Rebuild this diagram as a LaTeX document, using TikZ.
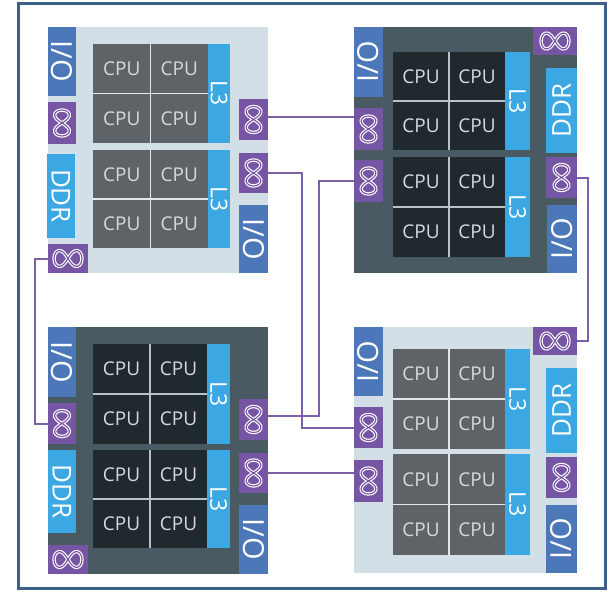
\documentclass[tikz,border=0pt]{standalone}
\usepackage{fontspec}
\setmainfont{Open Sans}
\usepackage{graphicx}

\definecolor{frameblue}{HTML}{3F5E88}
\definecolor{pkglight}{HTML}{D2DFE7}
\definecolor{pkgdark}{HTML}{4A5A62}
\definecolor{cpulight}{HTML}{5E6367}
\definecolor{cpudark}{HTML}{20292D}
\definecolor{iob}{HTML}{4C78BA}
\definecolor{cacheb}{HTML}{3BA8E4}
\definecolor{ifp}{HTML}{7755A5}
\definecolor{linkp}{HTML}{7B60A8}
\definecolor{cputxt}{HTML}{D6DADC}
\definecolor{seplight}{HTML}{E2E8EC}
\definecolor{sepdark}{HTML}{B8C2C8}

% rectangle node from corner (x1,y1) to corner (x2,y2): style, name, x1, y1, x2, y2, text
\newcommand\rbox[7]{%
  \node[#1,minimum width={(#5)-(#3)},minimum height={(#6)-(#4)}] (#2)
    at ({((#3)+(#5))/2},{((#4)+(#6))/2}) {#7};}

% a 2x2 block of cores with thin separators
\newcommand\cpugroup[7]{%
  \pgfmathsetmacro\xm{((#2)+(#4))/2}%
  \pgfmathsetmacro\ym{((#3)+(#5))/2}%
  \rbox{#6}{#1a}{#2}{#3}{\xm}{\ym}{CPU}
  \rbox{#6}{#1b}{\xm}{#3}{#4}{\ym}{CPU}
  \rbox{#6}{#1c}{#2}{\ym}{\xm}{#5}{CPU}
  \rbox{#6}{#1d}{\xm}{\ym}{#4}{#5}{CPU}
  \draw[#7] (#1a.north east) -- (#1c.south east);
  \draw[#7] (#1a.south west) -- (#1b.south east);}

% hollow infinity sign centred in an interconnect box
\newcommand\infmark[3]{%
  \begin{scope}[shift={(#1.center)},rotate=#2]
    \draw[white,line width=3.4] plot[smooth cycle,domain=0:350,samples=36,variable=\t]
      ({#3*cos(\t)/(1+sin(\t)*sin(\t))},{1.6*#3*sin(\t)*cos(\t)/(1+sin(\t)*sin(\t))});
    \draw[ifp,line width=1.1] plot[smooth cycle,domain=0:350,samples=36,variable=\t]
      ({#3*cos(\t)/(1+sin(\t)*sin(\t))},{1.6*#3*sin(\t)*cos(\t)/(1+sin(\t)*sin(\t))});
  \end{scope}}

\begin{document}
\begin{tikzpicture}[x=1pt,y=-1pt,
  every node/.style={inner sep=0pt,outer sep=0pt,rectangle},
  framebox/.style={draw=frameblue,line width=3pt,fill=white},
  pkgL/.style={fill=pkglight},
  pkgD/.style={fill=pkgdark},
  cellL/.style={fill=cpulight,text=cputxt,font=\fontsize{19}{19}\selectfont},
  cellD/.style={fill=cpudark,text=cputxt,font=\fontsize{19}{19}\selectfont},
  sepL/.style={seplight,line width=1.5pt},
  sepD/.style={sepdark,line width=1.5pt},
  iobox/.style={fill=iob,text=white,font=\fontsize{29}{29}\selectfont},
  cachebox/.style={fill=cacheb,text=white,font=\fontsize{26}{26}\selectfont},
  l3box/.style={fill=cacheb,text=white,font=\fontsize{23}{23}\selectfont},
  ifbox/.style={fill=ifp},
  link/.style={draw=linkp,line width=2pt}]
\useasboundingbox (0,0) rectangle (613,592);
\fill[white] (0,0) rectangle (613,592);
\rbox{framebox}{frame}{18}{3}{605}{588}{}

% ---- socket, top left ----
\rbox{pkgL}{tl}{48}{27}{268}{273}{}
\rbox{iobox}{tlIOa}{48}{27}{76}{96}{\rotatebox{-90}{I/O}}
\rbox{ifbox}{tlXl}{48}{102}{76}{144}{}
\rbox{cachebox}{tlDDR}{47}{154}{75}{238}{\rotatebox{-90}{DDR}}
\rbox{ifbox}{tlXb}{48}{244}{88}{273}{}
\cpugroup{tlGa}{93}{44}{208}{143}{cellL}{sepL}
\cpugroup{tlGb}{93}{150}{208}{248}{cellL}{sepL}
\rbox{l3box}{tlCa}{208}{44}{230}{143}{\rotatebox{-90}{L3}}
\rbox{l3box}{tlCb}{208}{150}{230}{248}{\rotatebox{-90}{L3}}
\rbox{ifbox}{tlXr1}{239}{99}{268}{140}{}
\rbox{ifbox}{tlXr2}{239}{153}{268}{193}{}
\rbox{iobox}{tlIOb}{239}{205}{268}{273}{\rotatebox{-90}{I/O}}

% ---- socket, top right ----
\rbox{pkgD}{tr}{354}{27}{577}{273}{}
\rbox{iobox}{trIOa}{354}{27}{383}{97}{\rotatebox{90}{I/O}}
\rbox{ifbox}{trXt}{533}{27}{577}{55}{}
\rbox{cachebox}{trDDR}{546}{68}{577}{153}{\rotatebox{90}{DDR}}
\rbox{ifbox}{trXr}{546}{157}{577}{198}{}
\rbox{iobox}{trIOb}{547}{205}{577}{273}{\rotatebox{90}{I/O}}
\rbox{ifbox}{trXl1}{354}{108}{383}{150}{}
\rbox{ifbox}{trXl2}{354}{160}{383}{202}{}
\cpugroup{trGa}{393}{52}{505}{150}{cellD}{sepD}
\cpugroup{trGb}{393}{157}{505}{257}{cellD}{sepD}
\rbox{l3box}{trCa}{505}{52}{530}{150}{\rotatebox{-90}{L3}}
\rbox{l3box}{trCb}{505}{157}{530}{257}{\rotatebox{-90}{L3}}

% ---- socket, bottom left ----
\rbox{pkgD}{bl}{48}{327}{268}{574}{}
\rbox{iobox}{blIOa}{48}{327}{76}{397}{\rotatebox{-90}{I/O}}
\rbox{ifbox}{blXl}{48}{403}{76}{444}{}
\rbox{cachebox}{blDDR}{48}{450}{76}{533}{\rotatebox{-90}{DDR}}
\rbox{ifbox}{blXb}{48}{545}{88}{574}{}
\cpugroup{blGa}{93}{344}{207}{444}{cellD}{sepD}
\cpugroup{blGb}{93}{450}{207}{548}{cellD}{sepD}
\rbox{l3box}{blCa}{207}{344}{230}{444}{\rotatebox{-90}{L3}}
\rbox{l3box}{blCb}{207}{450}{230}{548}{\rotatebox{-90}{L3}}
\rbox{ifbox}{blXr1}{239}{399}{268}{440}{}
\rbox{ifbox}{blXr2}{239}{453}{268}{493}{}
\rbox{iobox}{blIOb}{239}{505}{268}{574}{\rotatebox{-90}{I/O}}

% ---- socket, bottom right ----
\rbox{pkgL}{br}{354}{327}{577}{573}{}
\rbox{ifbox}{brXt}{533}{327}{577}{355}{}
\rbox{iobox}{brIOa}{354}{327}{383}{396}{\rotatebox{90}{I/O}}
\rbox{ifbox}{brXl1}{354}{407}{383}{448}{}
\rbox{ifbox}{brXl2}{354}{460}{383}{502}{}
\cpugroup{brGa}{393}{349}{505}{449}{cellL}{sepL}
\cpugroup{brGb}{393}{454}{505}{555}{cellL}{sepL}
\rbox{l3box}{brCa}{505}{349}{530}{449}{\rotatebox{-90}{L3}}
\rbox{l3box}{brCb}{505}{454}{530}{555}{\rotatebox{-90}{L3}}
\rbox{cachebox}{brDDR}{546}{368}{577}{453}{\rotatebox{90}{DDR}}
\rbox{ifbox}{brXr}{546}{457}{577}{498}{}
\rbox{iobox}{brIOb}{546}{505}{577}{573}{\rotatebox{90}{I/O}}

% ---- infinity marks ----
\infmark{tlXl}{90}{13}
\infmark{tlXb}{0}{14}
\infmark{tlXr1}{90}{13}
\infmark{tlXr2}{90}{13}
\infmark{trXt}{0}{14}
\infmark{trXr}{90}{13}
\infmark{trXl1}{90}{13}
\infmark{trXl2}{90}{13}
\infmark{blXl}{90}{13}
\infmark{blXb}{0}{14}
\infmark{blXr1}{90}{13}
\infmark{blXr2}{90}{13}
\infmark{brXt}{0}{14}
\infmark{brXl1}{90}{13}
\infmark{brXl2}{90}{13}
\infmark{brXr}{90}{13}

% ---- socket-to-socket links ----
\draw[link] (tlXr1.east) ++(0,-3) coordinate (lkA) -- (lkA -| trXl1.west);
\draw[link] (tlXr2.east) -- ++(34,0) |- (brXl1.west);
\draw[link] (trXl2.west) -- ++(-35,0) |- ([yshift=4pt]blXr1.east);
\draw[link] (blXr2.east) -- (blXr2.east -| brXl2.west);
\draw[link] (tlXb.west) -- ++(-13,0) |- (blXl.west);
\draw[link] (trXr.east) -- ++(11,0) |- (brXt.east);
\end{tikzpicture}
\end{document}
